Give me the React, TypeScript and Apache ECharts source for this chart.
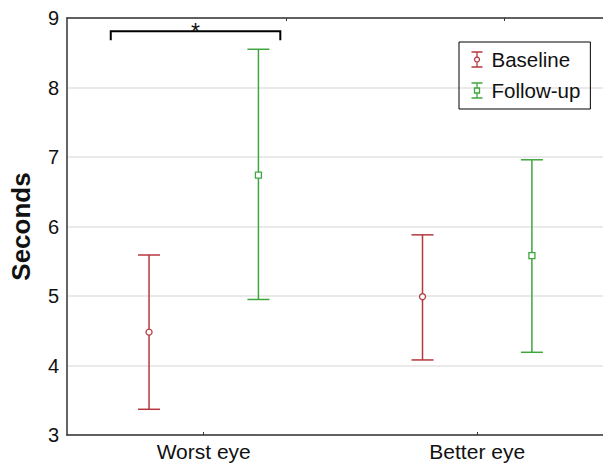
import React, { useEffect, useRef } from "react";
import * as echarts from "echarts";

const categories = ["Worst eye", "Better eye"];
const yTicks = [3, 4, 5, 6, 7, 8, 9];

const baselineMean = [4.48, 4.99];
const baselineLow = [3.37, 4.08];
const baselineHigh = [5.59, 5.88];

const followMean = [6.74, 5.58];
const followLow = [4.95, 4.19];
const followHigh = [8.55, 6.96];

// significance bracket: [xStart, xEnd, yTop, yEnd], label
const bracket = [[-0.34, 0.28, 8.81, 8.68]];
const bracketLabel = "*";

const RED = "#b5383e";
const GREEN = "#3fa63f";
const OFFSET = 0.2;
const FONT = "Liberation Sans, Arial, sans-serif";

function errorBarSeries(name: string, color: string, shape: "circle" | "square", means: number[], lows: number[], highs: number[], off: number) {
  const data = categories.map((_, i) => [i + off, means[i], lows[i], highs[i]]);
  return {
    type: "custom",
    name,
    data,
    encode: { x: 0, y: [1, 2, 3] },
    renderItem: (params: any, api: any) => {
      const x = api.value(0);
      const pM = api.coord([x, api.value(1)]);
      const pL = api.coord([x, api.value(2)]);
      const pH = api.coord([x, api.value(3)]);
      const cap = 11;
      const ls = { stroke: color, lineWidth: 1.5 };
      const marker =
        shape === "circle"
          ? { type: "circle", shape: { cx: pM[0], cy: pM[1], r: 3 }, style: { fill: "#fff", stroke: color, lineWidth: 1.3 } }
          : { type: "rect", shape: { x: pM[0] - 3, y: pM[1] - 3, width: 6, height: 6 }, style: { fill: "#fff", stroke: color, lineWidth: 1.3 } };
      return {
        type: "group",
        children: [
          { type: "line", shape: { x1: pL[0], y1: pL[1], x2: pH[0], y2: pH[1] }, style: ls },
          { type: "line", shape: { x1: pH[0] - cap, y1: pH[1], x2: pH[0] + cap, y2: pH[1] }, style: ls },
          { type: "line", shape: { x1: pL[0] - cap, y1: pL[1], x2: pL[0] + cap, y2: pL[1] }, style: ls },
          marker,
        ],
      };
    },
  };
}

const iconCircle = "path://M0,0H11M5.5,0V5M5.5,10V15M0,15H11M5.5,5A2.5,2.5,0,1,1,5.49,5Z";
const iconSquare = "path://M0,0H11M5.5,0V5M5.5,10V15M0,15H11M3,5H8V10H3Z";

export default function App() {
  const ref = useRef<HTMLDivElement>(null);
  useEffect(() => {
    if (!ref.current) return;
    const chart = echarts.init(ref.current, null, { renderer: "svg" });
    const axisLineStyle = { color: "#333", width: 1.5 };
    chart.setOption({
      animation: false,
      backgroundColor: "#fff",
      grid: { left: 66, right: 0, top: 18, bottom: 29, containLabel: false },
      legend: {
        left: 459,
        top: 42,
        orient: "vertical",
        selectedMode: false,
        borderColor: "#000",
        borderWidth: 1,
        padding: [7, 10, 8, 10],
        itemWidth: 11,
        itemHeight: 15,
        itemGap: 10,
        textStyle: { fontFamily: FONT, fontSize: 20.5, color: "#111", padding: [0, 0, 0, 4] },
        data: [
          { name: "Baseline", icon: iconCircle, itemStyle: { color: "none", borderColor: RED, borderWidth: 1.3 } },
          { name: "Follow-up", icon: iconSquare, itemStyle: { color: "none", borderColor: GREEN, borderWidth: 1.3 } },
        ],
      },
      xAxis: [
        {
          type: "value",
          min: -0.5,
          max: 1.46,
          position: "bottom",
          axisLine: { show: true, onZero: false, lineStyle: axisLineStyle },
          axisTick: { show: true, inside: true, length: 3, customValues: [0, 1], lineStyle: { color: "#333" } },
          axisLabel: {
            customValues: [0, 1],
            formatter: (v: number) => categories[Math.round(v)] ?? "",
            fontFamily: FONT,
            fontSize: 21,
            color: "#111",
            margin: 6,
          },
          splitLine: { show: false },
        },
        {
          type: "value",
          min: -0.5,
          max: 1.46,
          position: "top",
          axisLine: { show: true, onZero: false, lineStyle: axisLineStyle },
          axisTick: { show: true, inside: true, length: 3, customValues: [0.3, 1.1], lineStyle: { color: "#333" } },
          axisLabel: { show: false },
          splitLine: { show: false },
        },
      ],
      yAxis: {
        type: "value",
        min: yTicks[0],
        max: yTicks[yTicks.length - 1],
        interval: 1,
        name: "Seconds",
        nameLocation: "middle",
        nameRotate: 90,
        nameGap: 33,
        nameTextStyle: { fontFamily: FONT, fontSize: 26, fontWeight: "bold", color: "#111" },
        axisLine: { show: true, onZero: false, lineStyle: axisLineStyle },
        axisTick: { show: false },
        axisLabel: { fontFamily: FONT, fontSize: 20, color: "#111", margin: 8 },
        splitLine: { show: true, lineStyle: { color: "#e3e3e3", width: 1.5 } },
      },
      series: [
        errorBarSeries("Baseline", RED, "circle", baselineMean, baselineLow, baselineHigh, -OFFSET),
        errorBarSeries("Follow-up", GREEN, "square", followMean, followLow, followHigh, OFFSET),
        {
          type: "custom",
          name: "bracket",
          data: bracket,
          silent: true,
          renderItem: (params: any, api: any) => {
            const a = api.coord([api.value(0), api.value(2)]);
            const b = api.coord([api.value(1), api.value(2)]);
            const e = api.coord([api.value(0), api.value(3)]);
            const ls = { stroke: "#000", lineWidth: 2, fill: "none" };
            return {
              type: "group",
              children: [
                { type: "polyline", shape: { points: [[a[0], e[1]], a, b, [b[0], e[1]]] }, style: ls },
                {
                  type: "text",
                  style: {
                    text: bracketLabel,
                    x: (a[0] + b[0]) / 2,
                    y: a[1] - 11,
                    align: "center",
                    verticalAlign: "top",
                    fontSize: 23,
                    fontFamily: FONT,
                    fill: "#111",
                  },
                },
              ],
            };
          },
        },
      ],
    });
    return () => chart.dispose();
  }, []);
  return <div ref={ref} style={{ width: 603, height: 464, position: "fixed", left: 0, top: 0 }} />;
}
